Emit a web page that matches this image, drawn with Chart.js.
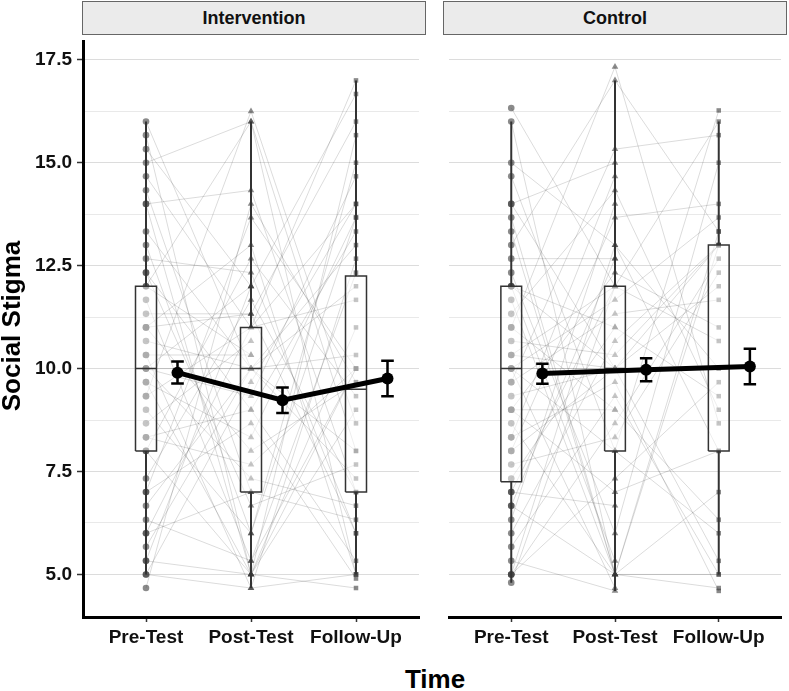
<!DOCTYPE html>
<html>
<head>
<meta charset="utf-8">
<script src="https://cdn.jsdelivr.net/npm/chart.js@4.4.1/dist/chart.umd.min.js"></script>
<style>
  body { margin: 0; background: #fff; font-family: "Liberation Sans", Arial, sans-serif; }
  #wrap { position: relative; width: 789px; height: 691px; overflow: hidden; }
  .strip {
    position: absolute; top: 1px; height: 34px; box-sizing: border-box;
    background: #ebebeb; border: 1px solid #666;
    font-weight: bold; font-size: 18px; line-height: 33px; text-align: center; color: #111;
  }
  canvas { position: absolute; }
  .ytitle {
    position: absolute; left: -139px; top: 313px; width: 300px; height: 26px;
    line-height: 26px; font-size: 26px; font-weight: bold; text-align: center;
    transform: rotate(-90deg); color: #000;
  }
  .xtitle {
    position: absolute; left: 335px; top: 666px; width: 200px; height: 26px;
    line-height: 26px; font-size: 26px; font-weight: bold; text-align: center; color: #000;
  }
</style>
</head>
<body>
<div id="wrap">
  <div class="strip" style="left:82px;width:344px">Intervention</div>
  <div class="strip" style="left:443px;width:344px">Control</div>
  <canvas id="intChart" width="425" height="620" style="left:0;top:35px"></canvas>
  <canvas id="ctlChart" width="344" height="620" style="left:443px;top:35px"></canvas>
  <div class="ytitle">Social Stigma</div>
  <div class="xtitle">Time</div>
</div>
<script>
const timeLabels = ["Pre-Test", "Post-Test", "Follow-Up"];

// individual scores, one entry per participant (null = missing)
const intPre = [
  16, 15.67, 15.33, 15, 14.67, 14.33, 14, 14, 13.33, 13,
  12.67, 12.33, 12, 12, 11.67, 11.33, 11, 11, 10.67, 10.33,
  10, 10, 10, 10, 9.67, 9.33, 9.33, 9, 8.67, 8.33,
  8, 8, 7.33, 7, 7, 6.67, 6.33, 6, 6, 5.67,
  5.33, 5.33, 5, 5, 4.67, 12.33, 10.33, 9.67, 11, 8.33,
];
const intPost = [
  10, 5, 12, 16, 11, 7, 5, 14.33, 10, 6,
  12.33, 9, 16, 10.33, 5.33, 11.33, 8, 13, 10, 4.67,
  12, 9.33, 7.33, 10, 5, 11, 16.25, 6, 10.67, 9,
  12.67, 5, 11.67, 13.67, 8.67, 10, 5.33, 7, 11, 10,
  5, 12, 9.67, 4.67, 14, 6.67, 10.33, 8.33, 11.33, 7.67,
];
const intFollow = [
  13, 9, 16.67, 5, 14, null, 10, 7, 12, 15,
  6, 13.33, 8, null, 10, 16, 9.67, 5, 7.33, 12.67,
  null, 14.67, 6.67, 10.33, 4.67, 11.67, 8.67, 13.67, null, 5.33,
  9.33, 15.67, 7, 10, 4.9, null, 12.33, 6.33, 17, 8,
  11, null, 14, 5, 9.67, 7.67, null, 13.67, 6, 10,
];
const ctlPre = [
  16.33, 16, 15, 14.67, 14, 14, 13.33, 13, 12.67, 12.33,
  12, 12, 11.67, 11.33, 11, 10.67, 10.33, 10, 10, 10,
  9.67, 9.33, 9, 9, 8.67, 8.33, 8, 8, 7.67, 7.33,
  7, 7, 6.67, 6.33, 6, 5.67, 5.33, 5, 5, 4.8,
  11, 10.33, 12, 9.67, 9, 6.67, 5, 13.67, 8.33, 10,
];
const ctlPost = [
  12, 5, 13, 8, 15, 10, 5, 17, 12.67, 6,
  10, 11, 5, 14.33, 9, 10.33, 12, 4.67, 8, 11.67,
  15.33, 10, 7, 12.33, 5, 9.67, 13.67, 10, 8.33, 11,
  6.67, 12, 5, 14, 10.67, 9.33, 4.6, 13, 8.67, 12,
  17.33, 10, 5.33, 11.33, 9, 12.67, 7.33, 5, 14.67, 10,
];
const ctlFollow = [
  null, 13, 8, 16.27, null, 10, 5, 13.33, null, 15,
  12, null, 4.67, 9, null, 13, 10.67, null, 6, 13.67,
  15.67, null, 8, 11, null, 4.6, 14, null, 12.33, 9.33,
  null, 16, 7, null, 13, 5, null, 10, 12.67, null,
  8.67, 13, null, 11.67, 6.33, null, 9.67, 13.33, null, 5.33,
];

// boxplot stats per time point
const intBoxLow = [5, 4.67, 5];
const intBoxQ1 = [8, 7, 7];
const intBoxMed = [10, 10, 9.5];
const intBoxQ3 = [12, 11, 12.25];
const intBoxHigh = [16, 16, 17];
const ctlBoxLow = [4.8, 4.6, 5];
const ctlBoxQ1 = [7.25, 8, 8];
const ctlBoxMed = [10, 10, 10];
const ctlBoxQ3 = [12, 12, 13];
const ctlBoxHigh = [16, 17, 16];

// means with error bars
const intMean = [9.9, 9.23, 9.76];
const intLow = [9.64, 8.92, 9.33];
const intHigh = [10.17, 9.54, 10.19];
const ctlMean = [9.88, 9.97, 10.05];
const ctlLow = [9.63, 9.69, 9.62];
const ctlHigh = [10.12, 10.25, 10.48];

const Y_MIN = 3.966;
const Y_MAX = 17.957;
const MEAN_SHIFT = 0.3;
const BOX_HALF = 0.1;
const CAP_HALF = 0.06;

Chart.defaults.font.family = '"Liberation Sans", Arial, sans-serif';

function isMajor(v) {
  return Math.abs(v / 2.5 - Math.round(v / 2.5)) < 1e-6;
}

function renderPanel(canvasId, series, box, mean, showY) {
  const datasets = [];

  // spaghetti lines per participant
  const lines = [];
  series[0].forEach((v, i) => {
    lines.push({ x: 1, y: v }, { x: 2, y: series[1][i] }, { x: 3, y: series[2][i] }, { x: 3.5, y: null });
  });
  datasets.push({
    data: lines, showLine: true, spanGaps: false, pointRadius: 0,
    borderColor: "rgba(0,0,0,0.14)", borderWidth: 1, order: 6,
  });

  // raw points
  const shapes = ["circle", "triangle", "rect"];
  const radii = [3.3, 3.8, 3.2];
  series.forEach((vals, t) => {
    datasets.push({
      data: vals.filter((v) => v !== null).map((v) => ({ x: t + 1, y: v })),
      pointStyle: shapes[t], pointRadius: radii[t], borderWidth: 0,
      backgroundColor: "rgba(60,60,60,0.6)", order: 5,
    });
  });

  // whiskers
  const whiskers = [];
  box.low.forEach((lo, t) => {
    const c = t + 1;
    whiskers.push({ x: c, y: lo }, { x: c, y: box.q1[t] }, { x: c + 0.5, y: null });
    whiskers.push({ x: c, y: box.q3[t] }, { x: c, y: box.high[t] }, { x: c + 0.5, y: null });
  });
  datasets.push({
    data: whiskers, showLine: true, spanGaps: false, pointRadius: 0,
    borderColor: "#333", borderWidth: 2, order: 4,
  });

  // boxes
  box.q1.forEach((q1, t) => {
    const c = t + 1;
    const q3 = box.q3[t];
    datasets.push({
      data: [
        { x: c - BOX_HALF, y: q1 }, { x: c + BOX_HALF, y: q1 },
        { x: c + BOX_HALF, y: q3 }, { x: c - BOX_HALF, y: q3 },
        { x: c - BOX_HALF, y: q1 },
      ],
      showLine: true, pointRadius: 0, fill: "shape",
      backgroundColor: "rgba(255,255,255,0.5)",
      borderColor: "#333", borderWidth: 1.5, order: 3,
    });
  });

  // medians
  const medians = [];
  box.med.forEach((m, t) => {
    medians.push({ x: t + 1 - BOX_HALF, y: m }, { x: t + 1 + BOX_HALF, y: m }, { x: t + 1.5, y: null });
  });
  datasets.push({
    data: medians, showLine: true, spanGaps: false, pointRadius: 0,
    borderColor: "#333", borderWidth: 1.5, order: 2,
  });

  // error bars
  const bars = [];
  mean.low.forEach((lo, t) => {
    const x = t + 1 + MEAN_SHIFT;
    const hi = mean.high[t];
    bars.push({ x: x, y: lo }, { x: x, y: hi }, { x: x, y: null });
    bars.push({ x: x - CAP_HALF, y: lo }, { x: x + CAP_HALF, y: lo }, { x: x, y: null });
    bars.push({ x: x - CAP_HALF, y: hi }, { x: x + CAP_HALF, y: hi }, { x: x, y: null });
  });
  datasets.push({
    data: bars, showLine: true, spanGaps: false, pointRadius: 0,
    borderColor: "#000", borderWidth: 2.5, order: 1,
  });

  // mean line
  datasets.push({
    data: mean.value.map((v, t) => ({ x: t + 1 + MEAN_SHIFT, y: v })),
    showLine: true, borderColor: "#000", borderWidth: 5,
    pointRadius: 6, pointBackgroundColor: "#000", pointBorderWidth: 0, order: 0,
  });

  return new Chart(document.getElementById(canvasId), {
    type: "scatter",
    data: { datasets: datasets },
    options: {
      responsive: false,
      animation: false,
      events: [],
      plugins: { legend: { display: false }, tooltip: { enabled: false } },
      scales: {
        x: {
          type: "linear",
          min: 0.4,
          max: 3.6,
          afterFit: (s) => {
            s.height = 38;
            s.paddingLeft = 0;
            s.paddingRight = 0;
          },
          border: { display: true, color: "#000", width: 3 },
          grid: { drawOnChartArea: false, drawTicks: true, tickLength: 5, tickColor: "#333", tickWidth: 1.5 },
          ticks: {
            stepSize: 1,
            includeBounds: false,
            autoSkip: false,
            maxRotation: 0,
            padding: 4,
            color: "#111",
            font: { size: 19, weight: "bold" },
            callback: (v) => (Number.isInteger(v) ? timeLabels[v - 1] : ""),
          },
        },
        y: {
          min: Y_MIN,
          max: Y_MAX,
          afterFit: (s) => {
            s.width = showY ? 83 : 0;
            s.paddingTop = 0;
            s.paddingBottom = 0;
          },
          border: { display: showY, color: "#000", width: 3 },
          grid: {
            color: (c) => (c.tick && isMajor(c.tick.value) ? "#dcdcdc" : "#e9e9e9"),
            lineWidth: 1,
            drawTicks: showY,
            tickLength: 6,
            tickWidth: 1.5,
            tickColor: (c) => (c.tick && isMajor(c.tick.value) ? "#333" : "rgba(0,0,0,0)"),
          },
          ticks: {
            display: showY,
            stepSize: 1.25,
            includeBounds: false,
            maxTicksLimit: 20,
            autoSkip: false,
            padding: 5,
            color: "#111",
            font: { size: 19, weight: "bold" },
            callback: (v) => (isMajor(v) ? v.toFixed(1) : ""),
          },
        },
      },
    },
  });
}

renderPanel(
  "intChart",
  [intPre, intPost, intFollow],
  { low: intBoxLow, q1: intBoxQ1, med: intBoxMed, q3: intBoxQ3, high: intBoxHigh },
  { value: intMean, low: intLow, high: intHigh },
  true,
);
renderPanel(
  "ctlChart",
  [ctlPre, ctlPost, ctlFollow],
  { low: ctlBoxLow, q1: ctlBoxQ1, med: ctlBoxMed, q3: ctlBoxQ3, high: ctlBoxHigh },
  { value: ctlMean, low: ctlLow, high: ctlHigh },
  false,
);
</script>
</body>
</html>
